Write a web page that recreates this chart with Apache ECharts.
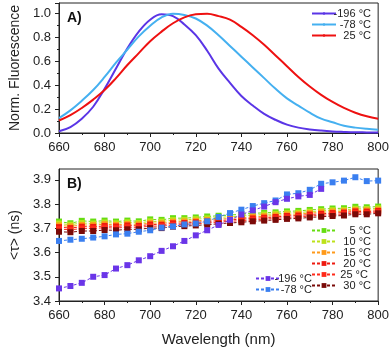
<!DOCTYPE html>
<html>
<head>
<meta charset="utf-8">
<script src="https://cdn.jsdelivr.net/npm/echarts@6/dist/echarts.min.js"></script>
<style>
  html, body { margin: 0; padding: 0; background: #fff; }
  #chart { width: 392px; height: 349px; }
</style>
</head>
<body>
<div id="chart"></div>
<script>
// panel A: normalised fluorescence spectra
var wlA = [660,665,670,675,680,685,690,695,700,705,710,715,720,725,730,735,740,745,750,755,760,765,770,775,780,785,790,795,800]
var fl196 = [0.015,0.05,0.12,0.22,0.37,0.54,0.71,0.85,0.95,0.995,0.98,0.91,0.82,0.69,0.54,0.42,0.31,0.23,0.16,0.11,0.07,0.045,0.03,0.02,0.013,0.009,0.006,0.005,0.004]
var fl78 = [0.125,0.19,0.27,0.36,0.47,0.59,0.70,0.81,0.90,0.97,1.0,0.99,0.96,0.90,0.82,0.73,0.64,0.55,0.46,0.37,0.29,0.23,0.17,0.12,0.09,0.06,0.045,0.035,0.028]
var fl25 = [0.105,0.15,0.21,0.28,0.36,0.46,0.57,0.67,0.77,0.85,0.92,0.97,0.995,1.0,0.98,0.95,0.89,0.82,0.74,0.65,0.56,0.47,0.39,0.32,0.26,0.21,0.17,0.14,0.12]

// panel B: average lifetime
var wlB = [660,665,670,675,680,685,690,695,700,705,710,715,720,725,730,735,740,745,750,755,760,765,770,775,780,785,790,795,800]
var tau196 = [3.452,3.462,3.475,3.500,3.507,3.534,3.548,3.568,3.585,3.607,3.626,3.648,3.671,3.692,3.714,3.735,3.757,3.774,3.790,3.808,3.822,3.832,3.838,3.863]
var tau78 = [3.648,3.653,3.657,3.662,3.667,3.675,3.678,3.686,3.692,3.703,3.708,3.716,3.720,3.729,3.747,3.763,3.777,3.792,3.804,3.815,3.840,3.845,3.859,3.884,3.890,3.897,3.911,3.895,3.897]
var tau5 = [3.728,3.721,3.731,3.728,3.732,3.728,3.732,3.729,3.737,3.735,3.742,3.742,3.745,3.749,3.752,3.755,3.758,3.762,3.764,3.766,3.770,3.772,3.776,3.779,3.782,3.783,3.789,3.787,3.790]
var tau10 = [3.720,3.715,3.722,3.720,3.724,3.721,3.725,3.722,3.729,3.728,3.734,3.735,3.738,3.741,3.745,3.748,3.751,3.754,3.757,3.760,3.763,3.765,3.769,3.772,3.775,3.776,3.781,3.780,3.783]
var tau15 = [3.712,3.708,3.714,3.713,3.717,3.714,3.718,3.716,3.722,3.721,3.727,3.728,3.731,3.734,3.738,3.741,3.744,3.747,3.750,3.753,3.757,3.759,3.763,3.766,3.769,3.770,3.775,3.774,3.777]
var tau20 = [3.705,3.701,3.707,3.706,3.710,3.708,3.712,3.710,3.716,3.715,3.721,3.722,3.725,3.728,3.732,3.735,3.738,3.741,3.744,3.747,3.751,3.753,3.757,3.760,3.763,3.765,3.770,3.769,3.772]
var tau25 = [3.697,3.694,3.699,3.699,3.703,3.701,3.705,3.704,3.709,3.709,3.714,3.716,3.719,3.722,3.726,3.729,3.732,3.735,3.738,3.741,3.745,3.747,3.751,3.754,3.757,3.759,3.764,3.764,3.767]
var tau30 = [3.686,3.684,3.689,3.689,3.693,3.692,3.696,3.696,3.701,3.701,3.707,3.709,3.712,3.715,3.719,3.722,3.725,3.729,3.732,3.735,3.739,3.741,3.745,3.748,3.751,3.753,3.758,3.758,3.762]

var font = 'Liberation Sans, Arial, sans-serif'

function pairs(xs, ys) {
  var out = []
  for (var i = 0; i < ys.length; i++) out.push([xs[i], ys[i]])
  return out
}

function specLine(name, color, data) {
  return {
    name: name, type: 'line', xAxisIndex: 0, yAxisIndex: 0,
    data: pairs(wlA, data), smooth: 0.4, symbol: 'none',
    lineStyle: { color: color, width: 2 }, itemStyle: { color: color }
  }
}

function tauLine(name, color, data) {
  return {
    name: name, type: 'line', xAxisIndex: 1, yAxisIndex: 1,
    data: pairs(wlB, data), symbol: 'rect', symbolSize: 6,
    lineStyle: { color: color, width: 1, type: [3, 2] },
    itemStyle: { color: color }
  }
}

var axisCommon = {
  axisLine: { onZero: false, lineStyle: { color: '#222', width: 1 } },
  axisTick: { length: 4, lineStyle: { color: '#222' } },
  minorTick: { show: true, splitNumber: 2, length: 2, lineStyle: { color: '#222' } },
  splitLine: { show: false },
  axisLabel: { color: '#222', fontSize: 13, fontFamily: font }
}

function xAx(idx, name) {
  return Object.assign({}, axisCommon, {
    type: 'value', gridIndex: idx, min: 660, max: 800, interval: 20,
    name: name, nameLocation: 'middle', nameGap: 31,
    nameTextStyle: { color: '#222', fontSize: 15, fontFamily: font },
    axisLabel: Object.assign({}, axisCommon.axisLabel, { margin: 8 })
  })
}

var rlabel = { rich: { r: { width: 30, align: 'right', fontSize: 11, lineHeight: 12, fontFamily: font, color: '#222' } } }
function rfmt(n) { return '{r|' + n + '}' }

var chart = echarts.init(document.getElementById('chart'))
chart.setOption({
  animation: false,
  textStyle: { fontFamily: font },
  title: [
    { text: 'A)', left: 62, top: 6, textStyle: { fontSize: 14, fontWeight: 'bold', color: '#111' } },
    { text: 'B)', left: 62, top: 172, textStyle: { fontSize: 14, fontWeight: 'bold', color: '#111' } }
  ],
  grid: [
    { left: 57, right: 13, top: 3, height: 130, show: true, borderColor: '#222', borderWidth: 1 },
    { left: 57, right: 13, top: 169, height: 132, show: true, borderColor: '#222', borderWidth: 1 }
  ],
  xAxis: [xAx(0, ''), xAx(1, 'Wavelength (nm)')],
  yAxis: [
    Object.assign({}, axisCommon, {
      type: 'value', gridIndex: 0, min: 0, max: 1.09, interval: 0.2,
      name: 'Norm. Fluorescence', nameLocation: 'middle', nameGap: 37,
      nameTextStyle: { color: '#222', fontSize: 14, fontFamily: font },
      axisLabel: Object.assign({}, axisCommon.axisLabel, { showMaxLabel: false, margin: 8,
        formatter: function (v) { return v.toFixed(1) } })
    }),
    Object.assign({}, axisCommon, {
      type: 'value', gridIndex: 1, min: 3.4, max: 3.945, interval: 0.1,
      name: '<τ> (ns)', nameLocation: 'middle', nameGap: 37,
      nameTextStyle: { color: '#222', fontSize: 14, fontFamily: font },
      minorTick: { show: false },
      axisLabel: Object.assign({}, axisCommon.axisLabel, { showMaxLabel: false, margin: 8,
        formatter: function (v) { return v.toFixed(1) } })
    })
  ],
  legend: [
    {
      data: ['-196 °C', '-78 °C', '25 °C'], orient: 'vertical', right: 16, top: 3,
      itemWidth: 24, itemHeight: 3, itemGap: 0, formatter: rfmt, textStyle: rlabel
    },
    {
      data: ['5 °C', '10 °C', '15 °C', '20 °C', '25 °C ', '30 °C'], orient: 'vertical', right: 16, top: 220,
      itemWidth: 24, itemHeight: 6, itemGap: 0, formatter: rfmt, textStyle: rlabel
    },
    {
      data: ['-196 °C ', '-78 °C '], orient: 'vertical', right: 72, top: 268,
      itemWidth: 24, itemHeight: 6, itemGap: 0, formatter: rfmt, textStyle: rlabel
    }
  ],
  series: [
    specLine('-196 °C', '#5a35e6', fl196),
    specLine('-78 °C', '#45b0f0', fl78),
    specLine('25 °C', '#ee1111', fl25),
    tauLine('5 °C', '#66dd11', tau5),
    tauLine('10 °C', '#bde21a', tau10),
    tauLine('15 °C', '#ff9a1a', tau15),
    tauLine('20 °C', '#ee1a10', tau20),
    tauLine('25 °C ', '#ff2a1a', tau25),
    tauLine('30 °C', '#7a0a08', tau30),
    tauLine('-78 °C ', '#3a7ff0', tau78),
    tauLine('-196 °C ', '#6a35e8', tau196)
  ]
})
</script>
</body>
</html>
